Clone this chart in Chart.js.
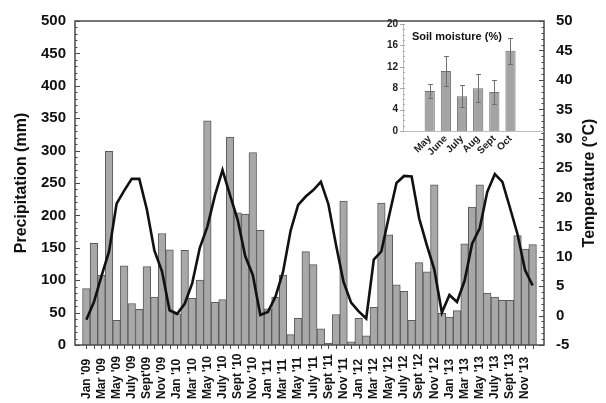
<!DOCTYPE html>
<html><head><meta charset="utf-8">
<script src="https://cdn.jsdelivr.net/npm/chart.js@4/dist/chart.umd.min.js"></script>
<style>
html,body{margin:0;padding:0;background:#fff;}
#wrap{position:relative;width:606px;height:403px;overflow:hidden;}
#main{position:absolute;left:0;top:0;}
#inset{position:absolute;left:370px;top:4px;}
</style></head><body>
<div id="wrap">
<canvas id="main" width="606" height="403"></canvas>
<canvas id="inset" width="180" height="160"></canvas>
</div>
<script>
// ---- Data ----
const months = [
 "Jan '09","Feb '09","Mar '09","Apr '09","May '09","June '09","July '09","Aug '09","Sept'09","Oct '09","Nov '09","Dec '09",
 "Jan '10","Feb '10","Mar '10","Apr '10","May '10","June '10","July '10","Aug '10","Sept '10","Oct '10","Nov '10","Dec '10",
 "Jan '11","Feb '11","Mar '11","Apr '11","May '11","June '11","July '11","Aug '11","Sept '11","Oct '11","Nov '11","Dec '11",
 "Jan '12","Feb '12","Mar '12","Apr '12","May '12","June '12","July '12","Aug '12","Sept '12","Oct '12","Nov '12","Dec '12",
 "Jan '13","Feb '13","Mar '13","Apr '13","May '13","June '13","July '13","Aug '13","Sept '13","Oct '13","Nov '13","Dec '13"
];
const precipitation = [
 87,157,108,299,38,122,64,55,121,74,172,147,
 48,146,72,100,346,66,70,321,204,202,297,177,
 56,74,108,16,41,144,124,25,3,47,222,5,
 41,14,58,219,170,93,83,38,127,113,247,49,
 43,53,156,213,247,80,74,69,69,169,148,155
];
const temperature = [
 -0.7,2.3,6.7,10.9,19.0,21.2,23.2,23.2,18.0,11.0,7.5,0.9,
 0.3,2.0,5.5,11.5,15.1,20.4,24.7,20.4,16.3,10.1,6.9,0.1,
 0.6,3.2,7.4,14.4,18.8,20.2,21.3,22.7,18.9,12.0,5.7,2.2,
 0.7,-0.5,9.5,10.9,16.8,22.5,23.7,23.6,16.5,12.0,7.8,0.5,
 3.5,2.3,5.9,12.2,14.8,21.0,24.0,22.7,18.3,13.8,7.7,5.1
];
// x tick labels shown on every other month
const xTickLabels = months.filter((_, i) => i % 2 === 0);
const precipTicks = [0,50,100,150,200,250,300,350,400,450,500];
const tempTicks = [-5,0,5,10,15,20,25,30,35,40,45,50];

const soilMonths = ["May","June","July","Aug","Sept","Oct"];
const soilMoisture = [7.5,11.2,6.5,8.0,7.3,15.0];
const soilError = [1.3,2.8,2.1,2.6,2.2,2.4];
const soilTicks = [0,4,8,12,16,20];

Chart.defaults.font.family = "'Liberation Sans', Arial, sans-serif";
Chart.defaults.color = '#111';

const BOLD = (s) => ({size: s, weight: 'bold'});

const framePlugin = {
  id: 'frame',
  afterDraw(chart) {
    const {ctx, chartArea: a, scales} = chart;
    ctx.save();
    ctx.strokeStyle = '#4a4a4a';
    ctx.lineWidth = 1;
    const ln = (x1, y1, x2, y2) => { ctx.beginPath(); ctx.moveTo(x1, y1); ctx.lineTo(x2, y2); ctx.stroke(); };
    // left axis ticks (inward), minor every 10
    for (let v = 0; v <= 500; v += 10) {
      const y = Math.round(scales.y.getPixelForValue(v)) + 0.5;
      ln(a.left, y, a.left + (v % 50 === 0 ? 5 : 2.5), y);
    }
    // right axis ticks (inward), minor every 1
    for (let v = -5; v <= 50; v += 1) {
      const y = Math.round(scales.y1.getPixelForValue(v)) + 0.5;
      ln(a.right, y, a.right - (v % 5 === 0 ? 5 : 2.5), y);
    }
    // bottom ticks every month
    months.forEach((_, i) => {
      const x = Math.round(scales.x.getPixelForValue(i)) + 0.5;
      ln(x, a.bottom, x, a.bottom + 4);
    });
    // frame
    ctx.lineWidth = 1.5;
    ctx.strokeRect(a.left, a.top, a.right - a.left, a.bottom - a.top);
    // x labels (rotated, bottom aligned)
    ctx.fillStyle = '#111';
    ctx.font = "bold 12px 'Liberation Sans', Arial, sans-serif";
    ctx.textAlign = 'left';
    ctx.textBaseline = 'middle';
    xTickLabels.forEach((lab, k) => {
      const x = scales.x.getPixelForValue(k * 2);
      ctx.save();
      ctx.translate(x, 399);
      ctx.rotate(-Math.PI / 2);
      ctx.fillText(lab, 0, 0);
      ctx.restore();
    });
    // right axis title
    ctx.font = "bold 16px 'Liberation Sans', Arial, sans-serif";
    ctx.textAlign = 'center';
    ctx.save();
    ctx.translate(590, (a.top + a.bottom) / 2);
    ctx.rotate(-Math.PI / 2);
    ctx.fillText('Temperature (°C)', 0, 0);
    ctx.restore();
    ctx.restore();
  }
};

new Chart(document.getElementById('main'), {
  data: {
    datasets: [
      {
        type: 'line', label: 'Temperature',
        data: temperature.map((t, i) => ({x: i, y: t})),
        yAxisID: 'y1', borderColor: '#111', borderWidth: 2.6,
        pointRadius: 0, tension: 0, fill: false, order: 0
      },
      {
        type: 'bar', label: 'Precipitation',
        data: precipitation.map((p, i) => ({x: i, y: p})),
        yAxisID: 'y', backgroundColor: '#a8a8a8', borderColor: '#5a5a5a',
        borderWidth: 1, barPercentage: 1, categoryPercentage: 1, order: 1
      }
    ]
  },
  options: {
    responsive: false, devicePixelRatio: 1, animation: false,
    layout: {padding: {top: 17, left: 0, right: 0, bottom: 0}},
    plugins: {legend: {display: false}, tooltip: {enabled: false}},
    scales: {
      x: {
        type: 'linear', min: -1, max: 60,
        ticks: {display: false, stepSize: 1},
        grid: {display: false, drawTicks: false}, border: {display: false},
        afterFit: s => { s.height = 58; }
      },
      y: {
        position: 'left', min: 0, max: 500,
        afterBuildTicks: s => { s.ticks = precipTicks.map(v => ({value: v})); },
        ticks: {padding: 9, color: '#111', font: BOLD(15)},
        grid: {display: false, drawTicks: false}, border: {display: false},
        title: {display: true, text: 'Precipitation (mm)', color: '#111', font: BOLD(16), padding: {top: 12, bottom: 0}},
        afterFit: s => { s.width = 75; }
      },
      y1: {
        position: 'right', min: -5, max: 50,
        afterBuildTicks: s => { s.ticks = tempTicks.map(v => ({value: v})); },
        ticks: {padding: 12, color: '#111', font: BOLD(15)},
        grid: {display: false, drawTicks: false}, border: {display: false},
        afterFit: s => { s.width = 62; }
      }
    }
  },
  plugins: [framePlugin]
});

const insetPlugin = {
  id: 'insetExtras',
  afterDatasetsDraw(chart) {
    const {ctx, chartArea: a, scales} = chart;
    ctx.save();
    const ln = (x1, y1, x2, y2) => { ctx.beginPath(); ctx.moveTo(x1, y1); ctx.lineTo(x2, y2); ctx.stroke(); };
    // error bars
    ctx.strokeStyle = '#6e6e6e';
    ctx.lineWidth = 1;
    soilMoisture.forEach((v, i) => {
      const x = Math.round(scales.x.getPixelForValue(i)) + 0.5;
      const yt = Math.round(scales.y.getPixelForValue(v + soilError[i])) + 0.5;
      const yb = Math.round(scales.y.getPixelForValue(v - soilError[i])) + 0.5;
      ln(x, yt, x, yb);
      ln(x - 2.5, yt, x + 2.5, yt);
      ln(x - 2.5, yb, x + 2.5, yb);
    });
    // y minor ticks
    ctx.strokeStyle = '#aaa';
    for (let v = 0; v <= 20; v += 1) {
      const y = Math.round(scales.y.getPixelForValue(v)) + 0.5;
      if (v % 4 === 0) ln(a.left - 3, y, a.left + 2, y); else ln(a.left, y, a.left + 2, y);
    }
    // title
    ctx.fillStyle = '#111';
    ctx.font = "bold 11px 'Liberation Sans', Arial, sans-serif";
    ctx.textAlign = 'left';
    ctx.textBaseline = 'middle';
    ctx.fillText('Soil moisture (%)', a.left + 9, a.top + 13);
    ctx.restore();
  }
};

new Chart(document.getElementById('inset'), {
  type: 'bar',
  data: {
    datasets: [{
      label: 'Soil moisture',
      data: soilMoisture.map((v, i) => ({x: i, y: v})),
      backgroundColor: '#a4a4a4', borderColor: '#707070', borderWidth: 1,
      barPercentage: 0.63, categoryPercentage: 1
    }]
  },
  options: {
    responsive: false, devicePixelRatio: 1, animation: false,
    layout: {padding: {top: 20, right: 7, left: 0, bottom: 0}},
    plugins: {legend: {display: false}, tooltip: {enabled: false}},
    scales: {
      x: {
        type: 'linear', min: -0.93, max: 6.29,
        afterBuildTicks: s => { s.ticks = soilMonths.map((_, i) => ({value: i})); },
        ticks: {autoSkip: false, minRotation: 45, maxRotation: 45, padding: 2,
                callback: v => soilMonths[v], font: BOLD(10), color: '#222'},
        grid: {display: false, drawTicks: false}, border: {color: '#bdbdbd'},
        afterFit: s => { s.height = 33; }
      },
      y: {
        min: 0, max: 20,
        afterBuildTicks: s => { s.ticks = soilTicks.map(v => ({value: v})); },
        ticks: {padding: 5, font: BOLD(10), color: '#222'},
        grid: {display: false, drawTicks: false}, border: {color: '#bdbdbd'},
        afterFit: s => { s.width = 33; }
      }
    }
  },
  plugins: [insetPlugin]
});
</script>
</body></html>
